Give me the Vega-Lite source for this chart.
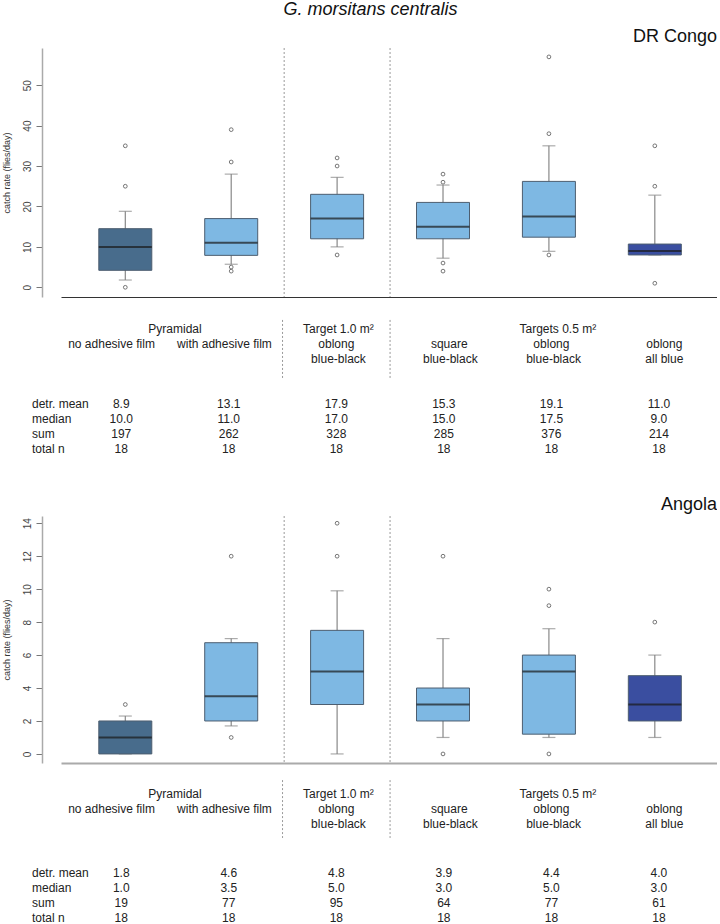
{
  "$schema": "https://vega.github.io/schema/vega-lite/v6.json",
  "padding": {"left": 2, "top": 0, "right": 0, "bottom": 0},
  "background": "white",
  "title": {"text": "G. morsitans centralis", "anchor": "middle", "fontSize": 18, "fontStyle": "italic", "fontWeight": "normal", "dx": 11, "offset": 9, "color": "#111"},
  "bounds": "flush",
  "spacing": 0,
  "config": {
    "view": {"stroke": null},
    "font": "Liberation Sans",
    "axis": {"labelFont": "Liberation Sans", "titleFont": "Liberation Sans"},
    "title": {"font": "Liberation Sans", "fontWeight": "normal", "color": "#111"}
  },
  "datasets": {
    "boxes": [
      {"panel": "DR Congo", "pos": 1, "kind": "dark", "lo": 1.8, "q1": 4.2, "med": 10, "q3": 14.5, "hi": 18.8},
      {"panel": "DR Congo", "pos": 2, "kind": "light", "lo": 5.7, "q1": 7.9, "med": 11, "q3": 17, "hi": 28},
      {"panel": "DR Congo", "pos": 3, "kind": "light", "lo": 10, "q1": 12, "med": 17, "q3": 23, "hi": 27.2},
      {"panel": "DR Congo", "pos": 4, "kind": "light", "lo": 7.2, "q1": 12, "med": 15, "q3": 21, "hi": 25.3},
      {"panel": "DR Congo", "pos": 5, "kind": "light", "lo": 8.9, "q1": 12.4, "med": 17.5, "q3": 26.2, "hi": 35},
      {"panel": "DR Congo", "pos": 6, "kind": "royal", "lo": 8, "q1": 8, "med": 9, "q3": 10.7, "hi": 22.8},
      {"panel": "Angola", "pos": 1, "kind": "dark", "lo": 0, "q1": 0, "med": 1, "q3": 2, "hi": 2.3},
      {"panel": "Angola", "pos": 2, "kind": "light", "lo": 1.7, "q1": 2, "med": 3.5, "q3": 6.75, "hi": 7},
      {"panel": "Angola", "pos": 3, "kind": "light", "lo": 0, "q1": 3, "med": 5, "q3": 7.5, "hi": 9.9},
      {"panel": "Angola", "pos": 4, "kind": "light", "lo": 1, "q1": 2, "med": 3, "q3": 4, "hi": 7},
      {"panel": "Angola", "pos": 5, "kind": "light", "lo": 1, "q1": 1.2, "med": 5, "q3": 6, "hi": 7.6},
      {"panel": "Angola", "pos": 6, "kind": "royal", "lo": 1, "q1": 2, "med": 3, "q3": 4.75, "hi": 6}
    ],
    "outl": [
      {"panel": "DR Congo", "pos": 1, "value": 0},
      {"panel": "DR Congo", "pos": 1, "value": 25},
      {"panel": "DR Congo", "pos": 1, "value": 35},
      {"panel": "DR Congo", "pos": 2, "value": 4},
      {"panel": "DR Congo", "pos": 2, "value": 5},
      {"panel": "DR Congo", "pos": 2, "value": 31},
      {"panel": "DR Congo", "pos": 2, "value": 39},
      {"panel": "DR Congo", "pos": 3, "value": 8},
      {"panel": "DR Congo", "pos": 3, "value": 30},
      {"panel": "DR Congo", "pos": 3, "value": 32},
      {"panel": "DR Congo", "pos": 4, "value": 4},
      {"panel": "DR Congo", "pos": 4, "value": 6},
      {"panel": "DR Congo", "pos": 4, "value": 26},
      {"panel": "DR Congo", "pos": 4, "value": 28},
      {"panel": "DR Congo", "pos": 5, "value": 8},
      {"panel": "DR Congo", "pos": 5, "value": 38},
      {"panel": "DR Congo", "pos": 5, "value": 57},
      {"panel": "DR Congo", "pos": 6, "value": 1},
      {"panel": "DR Congo", "pos": 6, "value": 25},
      {"panel": "DR Congo", "pos": 6, "value": 35},
      {"panel": "Angola", "pos": 1, "value": 3},
      {"panel": "Angola", "pos": 2, "value": 1},
      {"panel": "Angola", "pos": 2, "value": 12},
      {"panel": "Angola", "pos": 3, "value": 12},
      {"panel": "Angola", "pos": 3, "value": 14},
      {"panel": "Angola", "pos": 4, "value": 0},
      {"panel": "Angola", "pos": 4, "value": 12},
      {"panel": "Angola", "pos": 5, "value": 0},
      {"panel": "Angola", "pos": 5, "value": 9},
      {"panel": "Angola", "pos": 5, "value": 10},
      {"panel": "Angola", "pos": 6, "value": 8}
    ],
    "seps": [{"col": 2.5}, {"col": 3.5}],
    "heads": [
      {"col": 1.5, "line": 1, "text": "Pyramidal"},
      {"col": 3.02, "line": 1, "text": "Target 1.0 m²"},
      {"col": 5.06, "line": 1, "text": "Targets 0.5 m²"},
      {"col": 0.91, "line": 2, "text": "no adhesive film"},
      {"col": 1.96, "line": 2, "text": "with adhesive film"},
      {"col": 3, "line": 2, "text": "oblong"},
      {"col": 4.05, "line": 2, "text": "square"},
      {"col": 5, "line": 2, "text": "oblong"},
      {"col": 6.05, "line": 2, "text": "oblong"},
      {"col": 3.02, "line": 3, "text": "blue-black"},
      {"col": 4.06, "line": 3, "text": "blue-black"},
      {"col": 5.02, "line": 3, "text": "blue-black"},
      {"col": 6.05, "line": 3, "text": "all blue"}
    ],
    "stats": [
      {"panel": "DR Congo", "line": 6, "text": "detr. mean"},
      {"panel": "DR Congo", "line": 7, "text": "median"},
      {"panel": "DR Congo", "line": 8, "text": "sum"},
      {"panel": "DR Congo", "line": 9, "text": "total n"},
      {"panel": "Angola", "line": 6.3, "text": "detr. mean"},
      {"panel": "Angola", "line": 7.3, "text": "median"},
      {"panel": "Angola", "line": 8.3, "text": "sum"},
      {"panel": "Angola", "line": 9.3, "text": "total n"}
    ],
    "cells": [
      {"panel": "DR Congo", "line": 6, "col": 1, "text": "8.9"},
      {"panel": "DR Congo", "line": 6, "col": 2, "text": "13.1"},
      {"panel": "DR Congo", "line": 6, "col": 3, "text": "17.9"},
      {"panel": "DR Congo", "line": 6, "col": 4, "text": "15.3"},
      {"panel": "DR Congo", "line": 6, "col": 5, "text": "19.1"},
      {"panel": "DR Congo", "line": 6, "col": 6, "text": "11.0"},
      {"panel": "DR Congo", "line": 7, "col": 1, "text": "10.0"},
      {"panel": "DR Congo", "line": 7, "col": 2, "text": "11.0"},
      {"panel": "DR Congo", "line": 7, "col": 3, "text": "17.0"},
      {"panel": "DR Congo", "line": 7, "col": 4, "text": "15.0"},
      {"panel": "DR Congo", "line": 7, "col": 5, "text": "17.5"},
      {"panel": "DR Congo", "line": 7, "col": 6, "text": "9.0"},
      {"panel": "DR Congo", "line": 8, "col": 1, "text": "197"},
      {"panel": "DR Congo", "line": 8, "col": 2, "text": "262"},
      {"panel": "DR Congo", "line": 8, "col": 3, "text": "328"},
      {"panel": "DR Congo", "line": 8, "col": 4, "text": "285"},
      {"panel": "DR Congo", "line": 8, "col": 5, "text": "376"},
      {"panel": "DR Congo", "line": 8, "col": 6, "text": "214"},
      {"panel": "DR Congo", "line": 9, "col": 1, "text": "18"},
      {"panel": "DR Congo", "line": 9, "col": 2, "text": "18"},
      {"panel": "DR Congo", "line": 9, "col": 3, "text": "18"},
      {"panel": "DR Congo", "line": 9, "col": 4, "text": "18"},
      {"panel": "DR Congo", "line": 9, "col": 5, "text": "18"},
      {"panel": "DR Congo", "line": 9, "col": 6, "text": "18"},
      {"panel": "Angola", "line": 6.3, "col": 1, "text": "1.8"},
      {"panel": "Angola", "line": 6.3, "col": 2, "text": "4.6"},
      {"panel": "Angola", "line": 6.3, "col": 3, "text": "4.8"},
      {"panel": "Angola", "line": 6.3, "col": 4, "text": "3.9"},
      {"panel": "Angola", "line": 6.3, "col": 5, "text": "4.4"},
      {"panel": "Angola", "line": 6.3, "col": 6, "text": "4.0"},
      {"panel": "Angola", "line": 7.3, "col": 1, "text": "1.0"},
      {"panel": "Angola", "line": 7.3, "col": 2, "text": "3.5"},
      {"panel": "Angola", "line": 7.3, "col": 3, "text": "5.0"},
      {"panel": "Angola", "line": 7.3, "col": 4, "text": "3.0"},
      {"panel": "Angola", "line": 7.3, "col": 5, "text": "5.0"},
      {"panel": "Angola", "line": 7.3, "col": 6, "text": "3.0"},
      {"panel": "Angola", "line": 8.3, "col": 1, "text": "19"},
      {"panel": "Angola", "line": 8.3, "col": 2, "text": "77"},
      {"panel": "Angola", "line": 8.3, "col": 3, "text": "95"},
      {"panel": "Angola", "line": 8.3, "col": 4, "text": "64"},
      {"panel": "Angola", "line": 8.3, "col": 5, "text": "77"},
      {"panel": "Angola", "line": 8.3, "col": 6, "text": "61"},
      {"panel": "Angola", "line": 9.3, "col": 1, "text": "18"},
      {"panel": "Angola", "line": 9.3, "col": 2, "text": "18"},
      {"panel": "Angola", "line": 9.3, "col": 3, "text": "18"},
      {"panel": "Angola", "line": 9.3, "col": 4, "text": "18"},
      {"panel": "Angola", "line": 9.3, "col": 5, "text": "18"},
      {"panel": "Angola", "line": 9.3, "col": 6, "text": "18"}
    ]
  },
  "vconcat": [
    {
      "width": 656,
      "height": 249,
      "title": {"text": "DR Congo", "anchor": "end", "fontSize": 18, "offset": 2},
      "layer": [
        {
          "data": {"name": "seps"},
          "mark": {"type": "rule", "color": "#999", "strokeDash": [2, 2], "strokeWidth": 1},
          "encoding": {
            "x": {"field": "col", "type": "quantitative", "scale": {"domain": [0.44, 6.54], "nice": false, "zero": false}, "axis": {"title": null, "labels": false, "ticks": false, "grid": false, "domainColor": "#333", "domainWidth": 1.2}}
          }
        },
        {
          "data": {"name": "boxes"},
          "transform": [{"filter": "datum.panel === 'DR Congo'"}],
          "encoding": {
            "x": {"field": "pos", "type": "quantitative", "scale": {"domain": [0.44, 6.54], "nice": false, "zero": false}, "axis": {"title": null, "labels": false, "ticks": false, "grid": false, "domainColor": "#333", "domainWidth": 1.2}}
          },
          "layer": [
            {
              "mark": {"type": "rule", "color": "#888", "strokeWidth": 1.2},
              "encoding": {
                "y": {"field": "lo", "type": "quantitative", "scale": {"domain": [-2.4, 59.2], "nice": false, "zero": false},
                  "axis": {"title": "catch rate (flies/day)", "values": [0, 10, 20, 30, 40, 50], "labelOverlap": false, "offset": 19, "grid": false, "domainColor": "#aaa", "domainWidth": 1.5, "tickColor": "#777", "tickSize": 6, "labelAngle": -90, "labelAlign": "center", "labelBaseline": "bottom", "labelPadding": 4, "labelFontSize": 10, "labelColor": "#444", "titleFontSize": 9, "titleFontWeight": "normal", "titleColor": "#333", "titlePadding": 11}},
                "y2": {"field": "hi"}
              }
            },
            {
              "mark": {"type": "tick", "orient": "horizontal", "size": 13, "thickness": 1.2, "color": "#888"},
              "encoding": {"y": {"field": "lo", "type": "quantitative", "title": "catch rate (flies/day)"}}
            },
            {
              "mark": {"type": "tick", "orient": "horizontal", "size": 13, "thickness": 1.2, "color": "#888"},
              "encoding": {"y": {"field": "hi", "type": "quantitative", "title": "catch rate (flies/day)"}}
            },
            {
              "mark": {"type": "bar", "orient": "vertical", "width": 53, "stroke": "#4d5e70", "strokeWidth": 1},
              "encoding": {
                "y": {"field": "q1", "type": "quantitative", "title": "catch rate (flies/day)"},
                "y2": {"field": "q3"},
                "color": {"field": "kind", "type": "nominal", "scale": {"domain": ["dark", "light", "royal"], "range": ["#486c8c", "#7eb8e3", "#3a4ea0"]}, "legend": null}
              }
            },
            {
              "mark": {"type": "tick", "orient": "horizontal", "size": 53, "thickness": 2, "color": "#1a1a1a"},
              "encoding": {"y": {"field": "med", "type": "quantitative", "title": "catch rate (flies/day)"}}
            }
          ]
        },
        {
          "data": {"name": "outl"},
          "transform": [{"filter": "datum.panel === 'DR Congo'"}],
          "mark": {"type": "point", "filled": false, "size": 14, "stroke": "#555", "strokeWidth": 0.8, "opacity": 1},
          "encoding": {
            "x": {"field": "pos", "type": "quantitative"},
            "y": {"field": "value", "type": "quantitative", "title": "catch rate (flies/day)"}
          }
        }
      ]
    },
    {
      "width": 656,
      "height": 219,
      "layer": [
        {
          "data": {"name": "seps"},
          "mark": {"type": "rule", "color": "#999", "strokeDash": [2, 2], "strokeWidth": 1},
          "encoding": {
            "x": {"field": "col", "type": "quantitative", "scale": {"domain": [0.44, 6.54], "nice": false, "zero": false}, "axis": null},
            "y": {"datum": 0.4, "type": "quantitative", "scale": {"domain": [-1.13, 13.47], "nice": false, "zero": false, "reverse": true}, "axis": null},
            "y2": {"datum": 4.27}
          }
        },
        {
          "data": {"name": "heads"},
          "mark": {"type": "text", "align": "center", "baseline": "middle", "fontSize": 12, "color": "#222"},
          "encoding": {
            "x": {"field": "col", "type": "quantitative"},
            "y": {"field": "line", "type": "quantitative"},
            "text": {"field": "text"}
          }
        },
        {
          "data": {"name": "cells"},
          "transform": [{"filter": "datum.panel === 'DR Congo'"}],
          "mark": {"type": "text", "align": "center", "baseline": "middle", "fontSize": 12, "color": "#222"},
          "encoding": {
            "x": {"field": "col", "type": "quantitative"},
            "y": {"field": "line", "type": "quantitative"},
            "text": {"field": "text"}
          }
        },
        {
          "data": {"name": "stats"},
          "transform": [{"filter": "datum.panel === 'DR Congo'"}],
          "mark": {"type": "text", "align": "left", "baseline": "middle", "fontSize": 12, "color": "#222"},
          "encoding": {
            "x": {"datum": 0.17, "type": "quantitative"},
            "y": {"field": "line", "type": "quantitative"},
            "text": {"field": "text"}
          }
        }
      ]
    },
    {
      "width": 656,
      "height": 247,
      "title": {"text": "Angola", "anchor": "end", "fontSize": 18, "offset": 2},
      "layer": [
        {
          "data": {"name": "seps"},
          "mark": {"type": "rule", "color": "#999", "strokeDash": [2, 2], "strokeWidth": 1},
          "encoding": {
            "x": {"field": "col", "type": "quantitative", "scale": {"domain": [0.44, 6.54], "nice": false, "zero": false}, "axis": {"title": null, "labels": false, "ticks": false, "grid": false, "domainColor": "#aaa", "domainWidth": 1.8}}
          }
        },
        {
          "data": {"name": "boxes"},
          "transform": [{"filter": "datum.panel === 'Angola'"}],
          "encoding": {
            "x": {"field": "pos", "type": "quantitative", "scale": {"domain": [0.44, 6.54], "nice": false, "zero": false}, "axis": {"title": null, "labels": false, "ticks": false, "grid": false, "domainColor": "#aaa", "domainWidth": 1.8}}
          },
          "layer": [
            {
              "mark": {"type": "rule", "color": "#888", "strokeWidth": 1.2},
              "encoding": {
                "y": {"field": "lo", "type": "quantitative", "scale": {"domain": [-0.55, 14.44], "nice": false, "zero": false},
                  "axis": {"title": "catch rate (flies/day)", "values": [0, 2, 4, 6, 8, 10, 12, 14], "labelOverlap": false, "offset": 19, "grid": false, "domainColor": "#aaa", "domainWidth": 1.5, "tickColor": "#777", "tickSize": 6, "labelAngle": -90, "labelAlign": "center", "labelBaseline": "bottom", "labelPadding": 4, "labelFontSize": 10, "labelColor": "#444", "titleFontSize": 9, "titleFontWeight": "normal", "titleColor": "#333", "titlePadding": 11}},
                "y2": {"field": "hi"}
              }
            },
            {
              "mark": {"type": "tick", "orient": "horizontal", "size": 13, "thickness": 1.2, "color": "#888"},
              "encoding": {"y": {"field": "lo", "type": "quantitative", "axis": {"title": "catch rate (flies/day)", "values": [0, 2, 4, 6, 8, 10, 12, 14], "labelOverlap": false, "offset": 19, "grid": false, "domainColor": "#aaa", "domainWidth": 1.5, "tickColor": "#777", "tickSize": 6, "labelAngle": -90, "labelAlign": "center", "labelBaseline": "bottom", "labelPadding": 4, "labelFontSize": 10, "labelColor": "#444", "titleFontSize": 9, "titleFontWeight": "normal", "titleColor": "#333", "titlePadding": 11}}}
            },
            {
              "mark": {"type": "tick", "orient": "horizontal", "size": 13, "thickness": 1.2, "color": "#888"},
              "encoding": {"y": {"field": "hi", "type": "quantitative", "axis": {"title": "catch rate (flies/day)", "values": [0, 2, 4, 6, 8, 10, 12, 14], "labelOverlap": false, "offset": 19, "grid": false, "domainColor": "#aaa", "domainWidth": 1.5, "tickColor": "#777", "tickSize": 6, "labelAngle": -90, "labelAlign": "center", "labelBaseline": "bottom", "labelPadding": 4, "labelFontSize": 10, "labelColor": "#444", "titleFontSize": 9, "titleFontWeight": "normal", "titleColor": "#333", "titlePadding": 11}}}
            },
            {
              "mark": {"type": "bar", "orient": "vertical", "width": 53, "stroke": "#4d5e70", "strokeWidth": 1},
              "encoding": {
                "y": {"field": "q1", "type": "quantitative", "axis": {"title": "catch rate (flies/day)", "values": [0, 2, 4, 6, 8, 10, 12, 14], "labelOverlap": false, "offset": 19, "grid": false, "domainColor": "#aaa", "domainWidth": 1.5, "tickColor": "#777", "tickSize": 6, "labelAngle": -90, "labelAlign": "center", "labelBaseline": "bottom", "labelPadding": 4, "labelFontSize": 10, "labelColor": "#444", "titleFontSize": 9, "titleFontWeight": "normal", "titleColor": "#333", "titlePadding": 11}},
                "y2": {"field": "q3"},
                "color": {"field": "kind", "type": "nominal", "scale": {"domain": ["dark", "light", "royal"], "range": ["#486c8c", "#7eb8e3", "#3a4ea0"]}, "legend": null}
              }
            },
            {
              "mark": {"type": "tick", "orient": "horizontal", "size": 53, "thickness": 2, "color": "#1a1a1a"},
              "encoding": {"y": {"field": "med", "type": "quantitative", "axis": {"title": "catch rate (flies/day)", "values": [0, 2, 4, 6, 8, 10, 12, 14], "labelOverlap": false, "offset": 19, "grid": false, "domainColor": "#aaa", "domainWidth": 1.5, "tickColor": "#777", "tickSize": 6, "labelAngle": -90, "labelAlign": "center", "labelBaseline": "bottom", "labelPadding": 4, "labelFontSize": 10, "labelColor": "#444", "titleFontSize": 9, "titleFontWeight": "normal", "titleColor": "#333", "titlePadding": 11}}}
            }
          ]
        },
        {
          "data": {"name": "outl"},
          "transform": [{"filter": "datum.panel === 'Angola'"}],
          "mark": {"type": "point", "filled": false, "size": 14, "stroke": "#555", "strokeWidth": 0.8, "opacity": 1},
          "encoding": {
            "x": {"field": "pos", "type": "quantitative"},
            "y": {"field": "value", "type": "quantitative", "axis": {"title": "catch rate (flies/day)", "values": [0, 2, 4, 6, 8, 10, 12, 14], "labelOverlap": false, "offset": 19, "grid": false, "domainColor": "#aaa", "domainWidth": 1.5, "tickColor": "#777", "tickSize": 6, "labelAngle": -90, "labelAlign": "center", "labelBaseline": "bottom", "labelPadding": 4, "labelFontSize": 10, "labelColor": "#444", "titleFontSize": 9, "titleFontWeight": "normal", "titleColor": "#333", "titlePadding": 11}}
          }
        }
      ]
    },
    {
      "width": 656,
      "height": 161,
      "layer": [
        {
          "data": {"name": "seps"},
          "mark": {"type": "rule", "color": "#999", "strokeDash": [2, 2], "strokeWidth": 1},
          "encoding": {
            "x": {"field": "col", "type": "quantitative", "scale": {"domain": [0.44, 6.54], "nice": false, "zero": false}, "axis": null},
            "y": {"datum": 0.07, "type": "quantitative", "scale": {"domain": [-1.07, 9.67], "nice": false, "zero": false, "reverse": true}, "axis": null},
            "y2": {"datum": 3.93}
          }
        },
        {
          "data": {"name": "heads"},
          "mark": {"type": "text", "align": "center", "baseline": "middle", "fontSize": 12, "color": "#222"},
          "encoding": {
            "x": {"field": "col", "type": "quantitative"},
            "y": {"field": "line", "type": "quantitative"},
            "text": {"field": "text"}
          }
        },
        {
          "data": {"name": "cells"},
          "transform": [{"filter": "datum.panel === 'Angola'"}],
          "mark": {"type": "text", "align": "center", "baseline": "middle", "fontSize": 12, "color": "#222"},
          "encoding": {
            "x": {"field": "col", "type": "quantitative"},
            "y": {"field": "line", "type": "quantitative"},
            "text": {"field": "text"}
          }
        },
        {
          "data": {"name": "stats"},
          "transform": [{"filter": "datum.panel === 'Angola'"}],
          "mark": {"type": "text", "align": "left", "baseline": "middle", "fontSize": 12, "color": "#222"},
          "encoding": {
            "x": {"datum": 0.17, "type": "quantitative"},
            "y": {"field": "line", "type": "quantitative"},
            "text": {"field": "text"}
          }
        }
      ]
    }
  ]
}
